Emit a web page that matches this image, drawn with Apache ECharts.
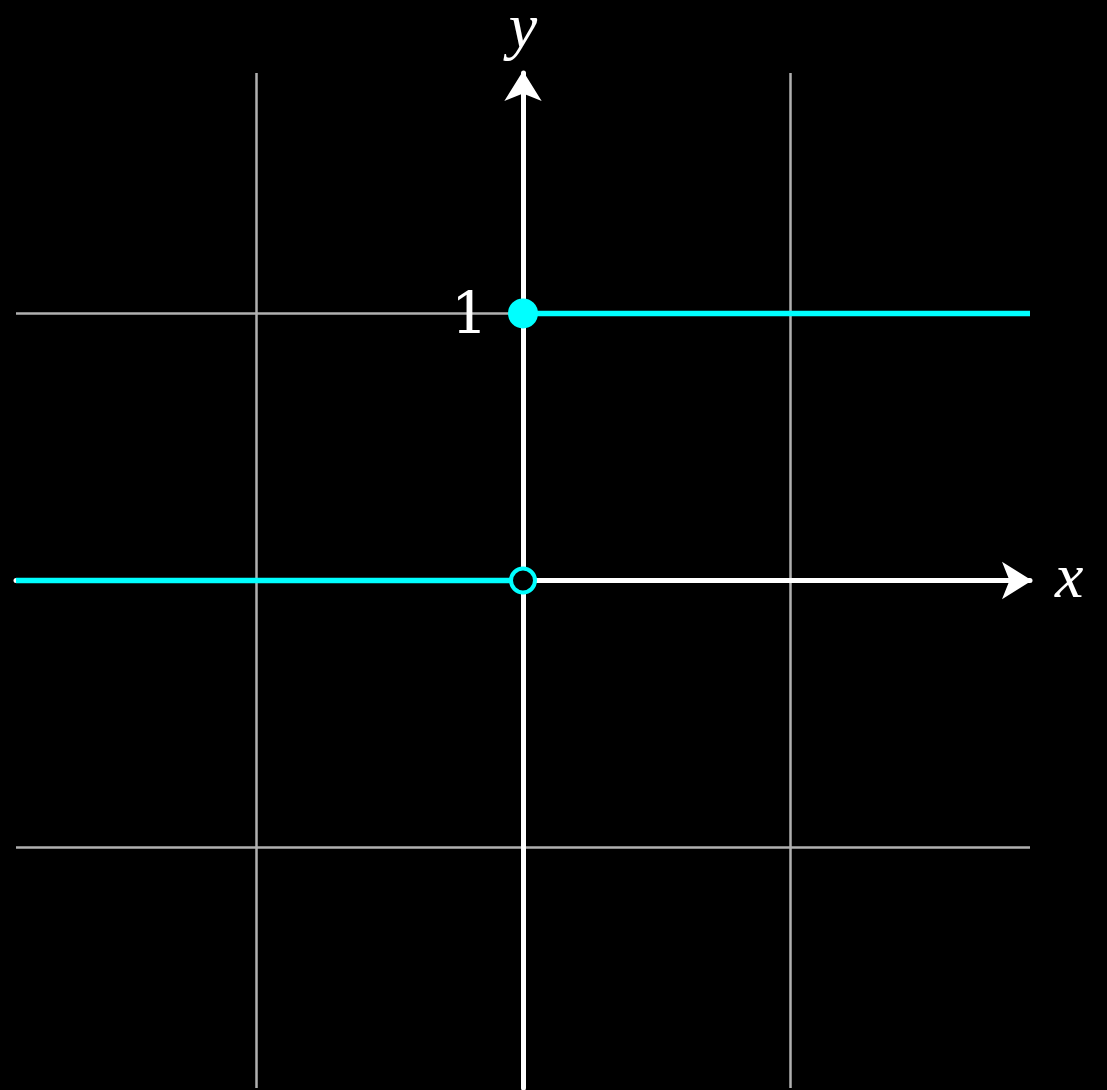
<!DOCTYPE html>
<html>
<head>
<meta charset="utf-8">
<script src="https://cdn.jsdelivr.net/npm/echarts@6/dist/echarts.min.js"></script>
<style>
  html, body { margin: 0; padding: 0; background: #000; }
  #chart { width: 1107px; height: 1090px; }
</style>
</head>
<body>
<div id="chart"></div>
<script>
// axis ranges
const xRange = [-1.9, 1.9];
const yRange = [-1.9, 1.9];
// grid lines
const gridX = [-1, 1];
const gridY = [-1, 1];
// step function pieces
const leftPiece = [[-1.9, 0], [0, 0]];
const rightPiece = [[0, 1], [1.9, 1]];
const openPoint = [[0, 0]];
const closedPoint = [[0, 1]];
const yTickLabel = "1";

const cyan = "#00ffff";
const mathFont = "Liberation Serif";

const chart = echarts.init(document.getElementById("chart"));

const gridLines = gridX.map((v) => ({ xAxis: v })).concat(gridY.map((v) => ({ yAxis: v })));

const axisCommon = {
  type: "value",
  axisTick: { show: false },
  axisLabel: { show: false },
  splitLine: { show: false },
  axisLine: {
    onZero: true,
    symbol: ["none", "arrow"],
    symbolSize: [28, 30],
    symbolOffset: [0, 2],
    lineStyle: { color: "#ffffff", width: 5 },
  },
  nameLocation: "end",
  nameTextStyle: {
    color: "#ffffff",
    fontFamily: mathFont,
    fontStyle: "italic",
    fontSize: 64,
  },
};

chart.setOption({
  backgroundColor: "#000000",
  animation: false,
  grid: { left: 16, top: 73, width: 1014, height: 1015, outerBoundsMode: "none", containLabel: false },
  xAxis: Object.assign({}, axisCommon, {
    min: xRange[0],
    max: xRange[1],
    name: "x",
    nameGap: 25,
  }),
  yAxis: Object.assign({}, axisCommon, {
    min: yRange[0],
    max: yRange[1],
    name: "y",
    nameGap: 11,
  }),
  series: [
    {
      type: "line",
      data: leftPiece,
      symbol: "none",
      lineStyle: { color: cyan, width: 5.5 },
      z: 3,
      markLine: {
        silent: true,
        z: -1,
        symbol: ["none", "none"],
        label: { show: false },
        lineStyle: { color: "#b0b0b0", width: 2.5, type: "solid" },
        data: gridLines,
      },
    },
    {
      type: "line",
      data: rightPiece,
      symbol: "none",
      lineStyle: { color: cyan, width: 5.5 },
      z: 3,
    },
    {
      type: "scatter",
      data: openPoint,
      symbol: "circle",
      symbolSize: 24,
      itemStyle: { color: "#000000", borderColor: cyan, borderWidth: 4, opacity: 1 },
      z: 4,
    },
    {
      type: "scatter",
      data: closedPoint,
      symbol: "circle",
      symbolSize: 30,
      itemStyle: { color: cyan, opacity: 1 },
      z: 4,
      label: {
        show: true,
        position: "left",
        distance: 20,
        offset: [0, 5],
        formatter: yTickLabel,
        color: "#ffffff",
        fontFamily: "DejaVu Serif",
        fontSize: 58,
      },
    },
  ],
});
</script>
</body>
</html>
